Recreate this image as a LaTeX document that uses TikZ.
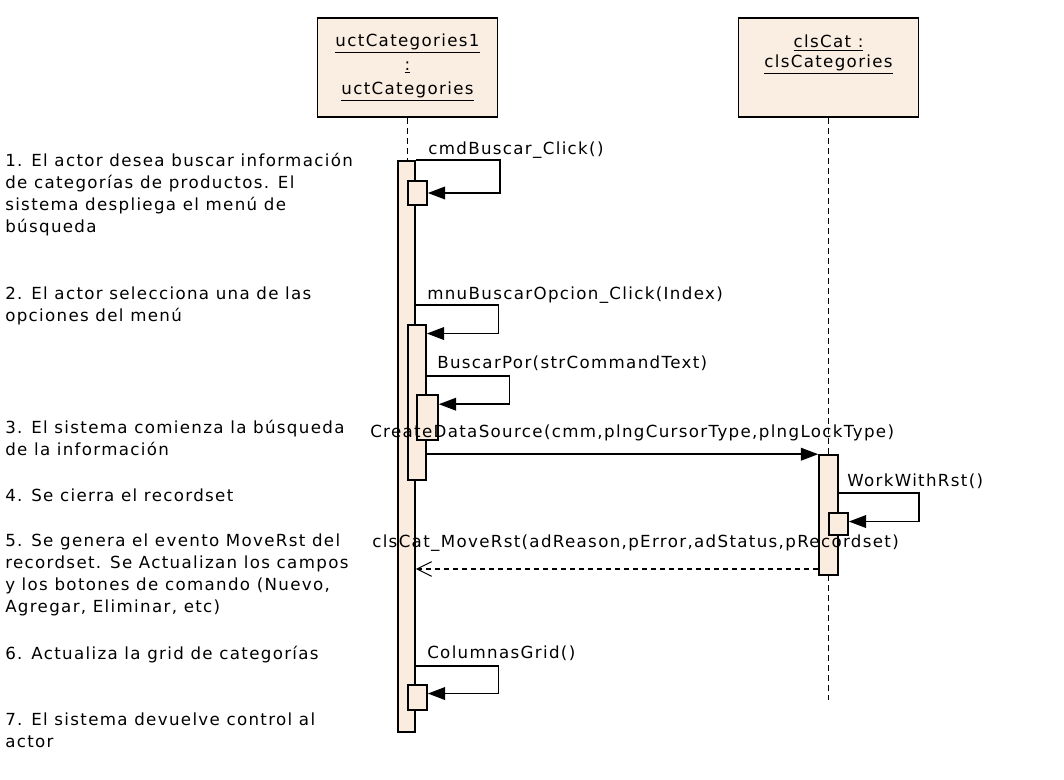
\documentclass[tikz,border=0pt]{standalone}
\usepackage{fontspec}
\setmainfont{DejaVu Sans}[LetterSpace=8]
\usetikzlibrary{arrows.meta,positioning,fit}
\newcommand{\umlfont}{\fontsize{12.5}{16.3}\selectfont}
\definecolor{objfill}{RGB}{250,238,226}
\definecolor{actfill}{RGB}{250,236,222}
\tikzset{
  objbox/.style={draw, line width=1.2pt, fill=objfill, align=center, minimum width=135pt, minimum height=74pt, inner sep=0pt},
  actbar/.style={draw, line width=1.2pt, fill=actfill, inner sep=0pt},
  lifeline/.style={line width=1.3pt, dash pattern=on 4.5pt off 3pt},
  call/.style={line width=1.2pt, -{Triangle[length=13pt,width=9.5pt]}},
  reply/.style={line width=0.8pt, dash pattern=on 3.75pt off 3pt, -{Straight Barb[length=11pt,width=11pt]}},
  msg/.style={anchor=base west, inner sep=0pt, font=\umlfont},
  stepnote/.style={anchor=base west, inner sep=0pt, align=left, font=\umlfont}
}

\begin{document}
\begin{tikzpicture}[x=0.75pt, y=-0.75pt]
  \useasboundingbox (0,0) rectangle (1064,779);
  % objects
  \node[objbox, font=\fontsize{12.5}{18}\selectfont] (uct) at (407.5,67.5) {\underline{uctCategories1}\\\underline{:}\\\underline{uctCategories}};
  \node[objbox, font=\fontsize{12.5}{15}\selectfont, text depth=24pt] (cat) at (828.5,67.5) {\underline{clsCat :}\\\underline{clsCategories}};
  \coordinate (catend) at (828.5,700);
  % lifelines
  \draw[lifeline] (uct.south) -- (uct.south |- 0,161);
  \draw[lifeline] (cat.south) -- (cat.south |- 0,455);
  \draw[lifeline] (828.5,575) -- (catend);
  % activations
  \node[actbar, fit={(398,161) (415,732)}] (act1) {};
  \node[actbar, fit={(408,181) (427,205)}] (act2) {};
  \node[actbar, fit={(408,325) (426,480)}] (act3) {};
  \node[actbar, fit={(417,395) (438,440)}] (act4) {};
  \node[actbar, fit={(819,455) (838,575)}] (act5) {};
  \node[actbar, fit={(829,513) (848,535)}] (act6) {};
  \node[actbar, fit={(408,685) (427,710)}] (act7) {};
  % messages
  \draw[call] (act1.north east) -- ++(63pt,0) |- (act2.east);
  \draw[call] (act1.east |- 0,305) -- ++(62pt,0) |- ([yshift=-7pt]act3.north east);
  \draw[call] (act3.east |- 0,376) -- ++(62pt,0) |- ([yshift=-7.5pt]act4.north east);
  \draw[call] (act3.east |- act5.north) -- (act5.north west);
  \draw[call] (act5.east |- 0,493) -- ++(60pt,0) |- ([yshift=-7pt]act6.north east);
  \draw[reply] (act5.west |- 0,569) -- (act1.east |- 0,569);
  \draw[call] (act1.east |- 0,666) -- ++(62pt,0) |- ([yshift=-7pt]act7.north east);
  % message labels
  \node[msg] (lclick) at (428,154) {cmdBuscar\_Click()};
  \node[msg] (lmnu) at (427,299) {mnuBuscarOpcion\_Click(Index)};
  \node[msg] (lbuscar) at (437,368) {BuscarPor(strCommandText)};
  \node[msg] (lcreate) at (370,437) {CreateDataSource(cmm,plngCursorType,plngLockType)};
  \node[msg] (lwork) at (847,486) {WorkWithRst()};
  \node[msg] (lmove) at (372,547) {clsCat\_MoveRst(adReason,pError,adStatus,pRecordset)};
  \node[msg] (lcols) at (427,658) {ColumnasGrid()};
  % steps (placed at the baseline of the last line)
  \node[stepnote] (s1) at (5,232) {1. El actor desea buscar información\\de categorías de productos. El\\sistema despliega el menú de\\búsqueda};
  \node[stepnote] (s2) at (5,321) {2. El actor selecciona una de las\\opciones del menú};
  \node[stepnote] (s3) at (5,455) {3. El sistema comienza la búsqueda\\de la información};
  \node[stepnote] (s4) at (5,501) {4. Se cierra el recordset};
  \node[stepnote] (s5) at (5,612) {5. Se genera el evento MoveRst del\\recordset. Se Actualizan los campos\\y los botones de comando (Nuevo,\\Agregar, Eliminar, etc)};
  \node[stepnote] (s6) at (5,659) {6. Actualiza la grid de categorías};
  \node[stepnote] (s7) at (5,747) {7. El sistema devuelve control al\\actor};
\end{tikzpicture}
\end{document}
